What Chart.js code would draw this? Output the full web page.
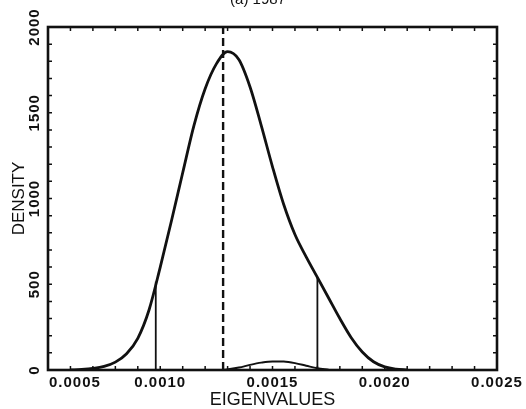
<!DOCTYPE html>
<html>
<head>
<meta charset="utf-8">
<script src="https://cdn.jsdelivr.net/npm/chart.js@4/dist/chart.umd.min.js"></script>
<style>
  html, body { margin: 0; padding: 0; background: #fff; }
  #wrap { width: 526px; height: 409px; }
</style>
</head>
<body>
<div id="wrap"><canvas id="c" width="526" height="409"></canvas></div>
<script>
// Kernel density of the eigenvalues
const eigenvalues = [0.00060, 0.00065, 0.00070, 0.00075, 0.00080, 0.00085, 0.00090, 0.00095,
  0.00100, 0.00105, 0.00110, 0.00115, 0.00120, 0.00125, 0.00130, 0.00135, 0.00140, 0.00145,
  0.00150, 0.00155, 0.00160, 0.00165, 0.00170, 0.00175, 0.00180, 0.00185, 0.00190, 0.00195,
  0.00200, 0.00205, 0.00210];
const density = [0, 3, 9, 21, 46, 95, 185, 350,
  600, 870, 1150, 1425, 1640, 1785, 1856, 1810, 1650, 1425,
  1185, 965, 790, 660, 540, 420, 300, 190, 105, 48,
  18, 5, 0];

// Small secondary density near the axis
const bumpEigenvalues = [0.00128, 0.00135, 0.00140, 0.00145, 0.00150, 0.00155, 0.00160, 0.00165, 0.00170, 0.00175];
const bumpDensity = [0, 14, 30, 43, 50, 49, 40, 25, 10, 2];

// Interval bounds with the density height where each meets the curve
const boundEigenvalues = [0.00098, 0.00170];
const boundHeights = [515, 540];

// Reference value drawn as a dashed vertical line
const referenceEigenvalue = 0.00128;

// Axis ticks
const xTickValues = [0.0005, 0.0010, 0.0015, 0.0020, 0.0025];
const xTickLabels = ['0.0005', '0.0010', '0.0015', '0.0020', '0.0025'];
const yTickValues = [0, 500, 1000, 1500, 2000];
const yTickLabels = ['0', '500', '1000', '1500', '2000'];
const xMinorStep = 0.0001;
const yMinorStep = 100;

const INK = '#111';

const toPoints = (xs, ys) => xs.map((x, i) => ({ x: x, y: ys[i] }));

const datasets = [
  {
    data: toPoints(eigenvalues, density),
    borderColor: INK, borderWidth: 2.8, pointRadius: 0,
    cubicInterpolationMode: 'monotone', fill: false
  },
  {
    data: toPoints(bumpEigenvalues, bumpDensity),
    borderColor: INK, borderWidth: 2, pointRadius: 0,
    cubicInterpolationMode: 'monotone', fill: false
  },
  ...boundEigenvalues.map((b, i) => ({
    data: [{ x: b, y: 0 }, { x: b, y: boundHeights[i] }],
    borderColor: INK, borderWidth: 1.8, pointRadius: 0, tension: 0
  })),
  {
    data: [{ x: referenceEigenvalue, y: 0 }, { x: referenceEigenvalue, y: 2000 }],
    borderColor: INK, borderWidth: 2.4, pointRadius: 0, tension: 0,
    borderDash: [8, 4]
  }
];

// Frame, inward ticks and all text
const framePlugin = {
  id: 'frame',
  afterDraw(chart) {
    const ctx = chart.ctx;
    const { left, right, top, bottom } = chart.chartArea;
    const xs = chart.scales.x, ys = chart.scales.y;
    ctx.save();
    ctx.strokeStyle = INK;
    ctx.fillStyle = INK;

    // ticks pointing inward on all four sides
    ctx.lineWidth = 1.5;
    const tl = 4;
    const nx = Math.round((xs.max - xs.min) / xMinorStep);
    for (let i = 0; i <= nx; i++) {
      const px = xs.getPixelForValue(xs.min + i * xMinorStep);
      ctx.beginPath();
      ctx.moveTo(px, bottom); ctx.lineTo(px, bottom - tl);
      ctx.moveTo(px, top); ctx.lineTo(px, top + tl);
      ctx.stroke();
    }
    const ny = Math.round((ys.max - ys.min) / yMinorStep);
    for (let i = 0; i <= ny; i++) {
      const py = ys.getPixelForValue(ys.min + i * yMinorStep);
      ctx.beginPath();
      ctx.moveTo(left, py); ctx.lineTo(left + tl, py);
      ctx.moveTo(right, py); ctx.lineTo(right - tl, py);
      ctx.stroke();
    }

    // frame
    ctx.lineWidth = 2.6;
    ctx.strokeRect(left, top, right - left, bottom - top);

    // x tick labels
    ctx.font = 'bold 15px "Liberation Sans", Arial, sans-serif';
    ctx.letterSpacing = '1px';
    ctx.textBaseline = 'middle';
    xTickValues.forEach((v, i) => {
      const px = xs.getPixelForValue(v);
      ctx.textAlign = i === 0 ? 'left' : 'center';
      ctx.fillText(xTickLabels[i], i === 0 ? px + 1 : px, bottom + 13);
    });

    // y tick labels, rotated
    yTickValues.forEach((v, i) => {
      const py = ys.getPixelForValue(v);
      ctx.save();
      ctx.translate(left - 13, py);
      ctx.rotate(-Math.PI / 2);
      ctx.textAlign = 'center';
      ctx.textBaseline = 'middle';
      ctx.fillText(yTickLabels[i], 0, 0);
      ctx.restore();
    });
    ctx.letterSpacing = '0px';

    // axis titles
    ctx.font = '18px "Liberation Sans", Arial, sans-serif';
    ctx.textAlign = 'center';
    ctx.textBaseline = 'middle';
    ctx.fillText('EIGENVALUES', (left + right) / 2, bottom + 30);

    ctx.save();
    ctx.font = '17px "Liberation Sans", Arial, sans-serif';
    ctx.translate(19, (top + bottom) / 2);
    ctx.rotate(-Math.PI / 2);
    ctx.fillText('DENSITY', 0, 0);
    ctx.restore();

    // panel title
    ctx.font = '15px "Liberation Sans", Arial, sans-serif';
    ctx.textBaseline = 'alphabetic';
    ctx.fillText('(a) 1987', 258, 4);
    ctx.restore();
  }
};

new Chart(document.getElementById('c'), {
  type: 'line',
  data: { datasets: datasets },
  options: {
    responsive: false,
    animation: false,
    events: [],
    layout: { padding: { left: 48, right: 29, top: 27, bottom: 39 } },
    plugins: { legend: { display: false }, tooltip: { enabled: false }, title: { display: false } },
    scales: {
      x: { type: 'linear', min: 0.0005, max: 0.0025, display: false },
      y: { type: 'linear', min: 0, max: 2000, display: false }
    }
  },
  plugins: [framePlugin]
});
</script>
</body>
</html>
